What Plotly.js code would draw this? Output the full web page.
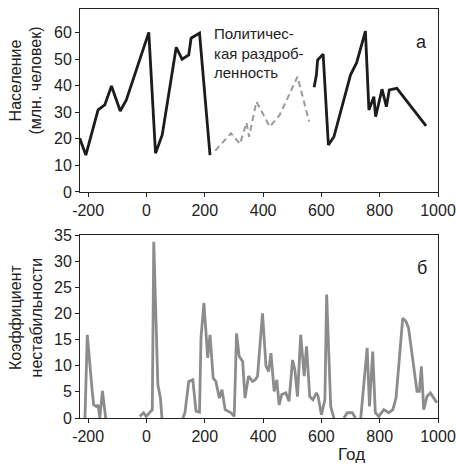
<!DOCTYPE html>
<html>
<head>
<meta charset="utf-8">
<script src="https://cdn.plot.ly/plotly-3.0.1.min.js"></script>
<style>html,body{margin:0;padding:0;background:#fff}#chart{width:456px;height:474px}</style>
</head>
<body>
<div id="chart"></div>
<script>
// Panel a: population (million people)
const popYears1 = [-229, -208, -166, -143, -120, -90, -69, 8, 31, 54, 102, 122, 145, 153, 182, 218];
const popVals1  = [20.2, 13.9, 30.9, 32.8, 39.9, 30.5, 34.7, 60.1, 14.6, 21.5, 54.5, 50.0, 51.6, 57.9, 59.8, 13.9];
const fragYears = [236, 290, 321, 343, 352, 377, 423, 457, 518, 558];
const fragVals  = [15.6, 22.1, 18.1, 26.1, 20.8, 34.0, 24.6, 29.0, 43.4, 26.5];
const popYears2 = [575, 583, 587, 606, 624, 643, 700, 721, 751, 763, 780, 786, 808, 823, 833, 854, 859, 959];
const popVals2  = [39.4, 44.1, 49.7, 51.9, 17.7, 20.8, 44.1, 48.7, 60.6, 30.9, 35.9, 28.4, 38.7, 32.1, 38.4, 38.7, 39.0, 24.9];

// Panel b: instability coefficient (null = line absent / at zero)
const instYears = [-211, -203, -186, -181, -172, -166, -160, -151, -140, null,
  -23, -10, -1, 20, 25, 39, 48, 53, null,
  125, 132, 145, 159, 170, 182, 187, 197, 204, 210, 218, 229, 238, 250, 259, 270, 290, 301,
  309, 318, 330, 338, 350, 364, 373, 381, 398, 410, 419, 427, 438, 447, 455, 464, 478, 489,
  501, 509, 518, 529, 541, 549, 560, 571, 583, 589, 600, 612, 618, 632, 643, null,
  677, 689, 706, 717, null,
  735, 750, 757, 765, 776, 785, 797, 814, 831, 845, 856, 879, 890, 899, 922, 928, 936, 943,
  951, 962, 974, 985, 996];
const instVals = [0, 15.9, 5.1, 2.5, 2.2, 2.5, 0, 5.2, 0, null,
  0.3, 1.0, 0.3, 1.6, 33.7, 6.4, 3.8, 0, null,
  0, 1.0, 7.0, 7.3, 1.3, 1.1, 15.3, 22.0, 16.5, 11.5, 15.9, 7.6, 7.0, 3.8, 5.4, 1.6, 1.0, 0.3,
  16.2, 11.8, 10.8, 3.8, 8.0, 7.0, 7.3, 8.0, 20.0, 9.9, 8.9, 12.4, 5.1, 7.3, 2.5, 4.5, 4.8, 3.2,
  11.1, 9.2, 4.1, 15.9, 8.0, 13.7, 4.1, 3.5, 4.8, 4.1, 0.6, 3.5, 23.6, 2.2, 0, null,
  0, 1.0, 1.0, 0, null,
  0, 9.5, 13.4, 2.2, 12.7, 1.0, 0.3, 1.6, 1.0, 1.6, 3.8, 19.1, 18.5, 17.2, 7.0, 5.1, 5.1, 9.9,
  1.6, 4.1, 4.8, 3.8, 2.9];

const xTickVals = [-200, 0, 200, 400, 600, 800, 1000];
const xTickText = ['-200', '0', '200', '400', '600', '800', '1000'];
const yTickVals1 = [0, 10, 20, 30, 40, 50, 60];
const yTickVals2 = [0, 5, 10, 15, 20, 25, 30, 35];

const FONT = "'Liberation Sans', Arial, sans-serif";
const TXT = '#222';

const traces = [
  {x: popYears1, y: popVals1, xaxis: 'x', yaxis: 'y', mode: 'lines',
   line: {color: '#1c1c1c', width: 2.8}, hoverinfo: 'skip'},
  {x: fragYears, y: fragVals, xaxis: 'x', yaxis: 'y', mode: 'lines',
   line: {color: '#9a9a9a', width: 2, dash: '6px,4px'}, hoverinfo: 'skip'},
  {x: popYears2, y: popVals2, xaxis: 'x', yaxis: 'y', mode: 'lines',
   line: {color: '#1c1c1c', width: 2.8}, hoverinfo: 'skip'},
  {x: instYears, y: instVals, xaxis: 'x2', yaxis: 'y2', mode: 'lines',
   line: {color: '#8c8c8c', width: 2.8}, connectgaps: false, hoverinfo: 'skip'}
];

const axisCommon = {
  showline: true, linecolor: '#222', linewidth: 1, mirror: true,
  ticks: 'outside', ticklen: 4, tickcolor: '#222', tickwidth: 1,
  showgrid: false, zeroline: false,
  tickfont: {family: FONT, size: 16, color: TXT}
};

const layout = {
  width: 456, height: 474,
  margin: {l: 80, r: 18, t: 9, b: 56},
  paper_bgcolor: '#fff', plot_bgcolor: '#fff',
  showlegend: false,
  xaxis: Object.assign({}, axisCommon, {domain: [0, 1], range: [-228, 1000], anchor: 'y',
    tickmode: 'array', tickvals: xTickVals, ticktext: xTickText}),
  yaxis: Object.assign({}, axisCommon, {domain: [0.5526, 1], range: [0, 68.9], anchor: 'x',
    tickmode: 'array', tickvals: yTickVals1}),
  xaxis2: Object.assign({}, axisCommon, {domain: [0, 1], range: [-228, 1000], anchor: 'y2',
    tickmode: 'array', tickvals: xTickVals, ticktext: xTickText}),
  yaxis2: Object.assign({}, axisCommon, {domain: [0, 0.4474], range: [0, 35], anchor: 'x2',
    tickmode: 'array', tickvals: yTickVals2}),
  annotations: [
    {text: 'Население<br>(млн. человек)', xref: 'paper', yref: 'paper', x: -0.152, y: 0.824,
     xanchor: 'center', yanchor: 'middle', textangle: -90, showarrow: false,
     font: {family: FONT, size: 16, color: TXT}},
    {text: 'Коэффициент<br>нестабильности', xref: 'paper', yref: 'paper', x: -0.152, y: 0.245,
     xanchor: 'center', yanchor: 'middle', textangle: -90, showarrow: false,
     font: {family: FONT, size: 16, color: TXT}},
    {text: 'Год', xref: 'paper', yref: 'paper', x: 0.758, y: -0.09,
     xanchor: 'center', yanchor: 'middle', showarrow: false,
     font: {family: FONT, size: 17, color: TXT}},
    {text: 'а', xref: 'paper', yref: 'paper', x: 0.955, y: 0.920,
     xanchor: 'center', yanchor: 'middle', showarrow: false,
     font: {family: FONT, size: 18, color: TXT}},
    {text: 'б', xref: 'paper', yref: 'paper', x: 0.955, y: 0.366,
     xanchor: 'center', yanchor: 'middle', showarrow: false,
     font: {family: FONT, size: 18, color: TXT}},
    {text: 'Политичес-<br>кая раздроб-<br>ленность', xref: 'paper', yref: 'paper', x: 0.37, y: 0.965,
     xanchor: 'left', yanchor: 'top', align: 'left', showarrow: false,
     font: {family: FONT, size: 15, color: TXT}}
  ]
};

Plotly.newPlot('chart', traces, layout, {staticPlot: true, displayModeBar: false});
</script>
</body>
</html>
